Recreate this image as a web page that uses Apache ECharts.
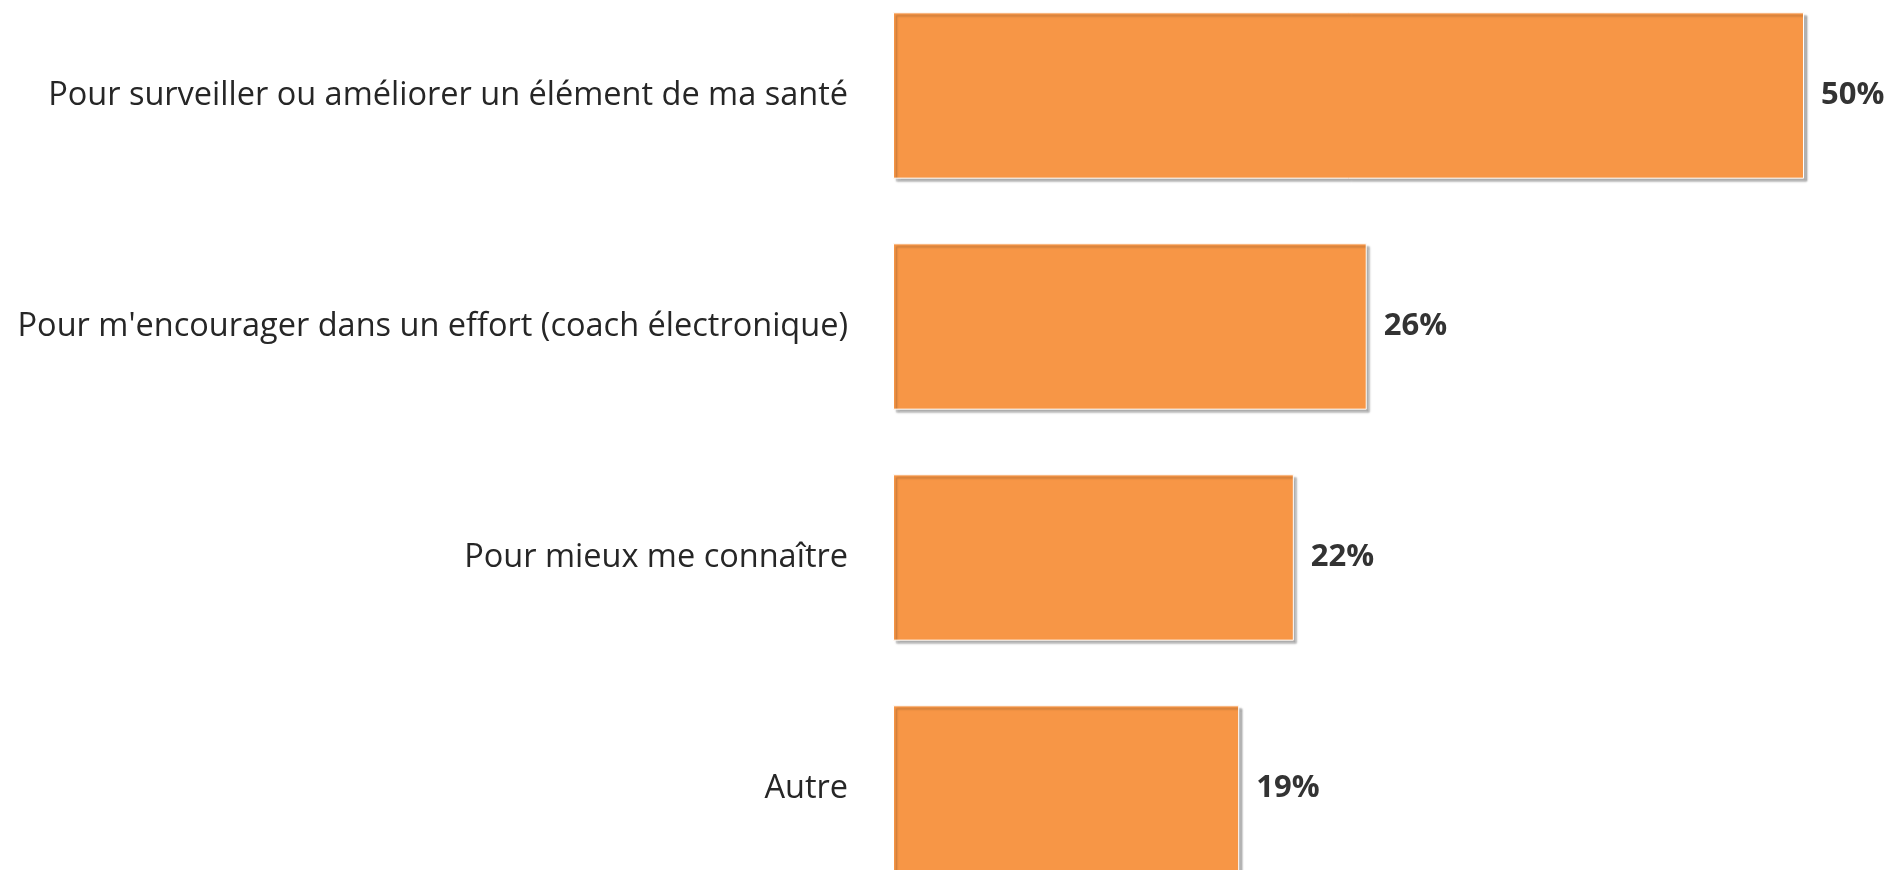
<!DOCTYPE html>
<html>
<head>
<meta charset="utf-8">
<title>Usages</title>
<script src="https://cdn.jsdelivr.net/npm/echarts@6/dist/echarts.min.js"></script>
<style>
	html, body { margin: 0; padding: 0; background: #fff; }
	#main { width: 1891px; height: 870px; }
</style>
</head>
<body>
<div id="main"></div>
<script>
	// données du graphique
	var categories = [
		'Pour surveiller ou améliorer un élément de ma santé',
		"Pour m'encourager dans un effort (coach électronique)",
		'Pour mieux me connaître',
		'Autre'
	];
	var values = [50, 26, 22, 19];

	//barres horizontales
	function createBar(id, names, datas) {
		var chart = echarts.init(document.getElementById(id));
		var option = {
			animation: false,
			grid: {
				left: 893,
				right: 87,
				top: -20,
				height: 924,
				containLabel: false,
				outerBoundsMode: 'none'
			},
			xAxis: {
				type: 'value',
				min: 0,
				max: 50,
				show: false
			},
			yAxis: {
				type: 'category',
				data: names,
				inverse: true,
				axisLine: { show: false },
				axisTick: { show: false },
				axisLabel: {
					margin: 45,
					fontFamily: 'Open Sans',
					fontSize: 32.5,
					color: '#262626',
					padding: [6, 0, 0, 0]
				}
			},
			series: [{
				type: 'bar',
				data: datas,
				barWidth: '72%',
				itemStyle: {
					color: '#F79646',
					borderColor: '#ffffff',
					borderWidth: 1,
					shadowColor: 'rgba(0,0,0,0.3)',
					shadowBlur: 2,
					shadowOffsetX: 3,
					shadowOffsetY: 3
				},
				label: {
					show: true,
					position: 'right',
					distance: 17,
					formatter: '{c}%',
					fontFamily: 'Open Sans',
					fontWeight: 'bold',
					fontSize: 31,
					color: '#333333'
				}
			}]
		};
		chart.setOption(option);
	}

	createBar('main', categories, values);
</script>
</body>
</html>
